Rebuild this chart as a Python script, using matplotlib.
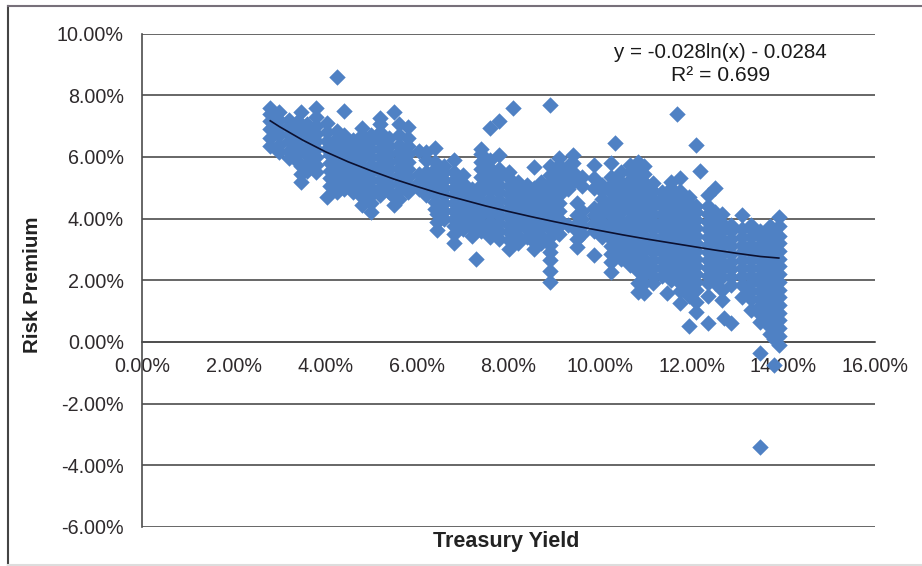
#!/usr/bin/env python3
# -*- coding: utf-8 -*-
import matplotlib
matplotlib.use("Agg")
import matplotlib.pyplot as plt
from matplotlib.lines import Line2D
from matplotlib.ticker import FuncFormatter

plt.rcParams['font.family'] = ['Liberation Sans', 'DejaVu Sans']

# treasury yield (%) and the risk premiums (%) at that yield
yields = [
    2.8, 3.0, 3.2, 3.4, 3.46, 3.6, 3.8, 4.03, 4.1, 4.26, 4.4, 4.6, 4.8, 5.0, 5.2, 5.4, 5.5,
    5.6, 5.8, 6.05, 6.2, 6.4, 6.45, 6.6, 6.8, 7.0, 7.2, 7.3, 7.4, 7.6, 7.8, 8.0, 8.1,
    8.2, 8.4, 8.55, 8.7, 8.9, 9.1, 9.3, 9.4, 9.5, 9.6, 9.87, 10.05, 10.24, 10.33,
    10.45, 10.65, 10.83, 10.96, 11.15, 11.35, 11.47, 11.55, 11.68, 11.75, 11.95,
    12.1, 12.19, 12.36, 12.5, 12.65, 12.7, 12.85, 13.09, 13.3, 13.48, 13.5, 13.7,
    13.8, 13.9,
]
premiums = [
    [6.35, 6.6, 6.9, 7.15, 7.4, 7.6],
    [6.15, 6.4, 6.7, 6.95, 7.2, 7.45],
    [5.95, 6.2, 6.5, 6.75, 7.0, 7.2],
    [5.85, 6.1, 6.4, 6.65, 6.9, 7.15],
    [5.18, 5.45, 5.7, 7.44],
    [5.55, 5.8, 6.05, 6.3, 6.6, 6.85, 7.05],
    [5.5, 5.75, 6.0, 6.25, 6.5, 6.75, 7.0, 7.3, 7.57],
    [4.7, 6.25, 6.5, 6.8, 7.1],
    [5.05, 5.3, 5.55, 5.8, 6.05, 6.3],
    [4.85, 5.1, 5.35, 5.6, 5.85, 6.1, 6.35, 6.6, 6.85, 8.58],
    [4.95, 5.2, 5.45, 5.7, 5.95, 6.2, 6.45, 6.7, 7.5],
    [4.85, 5.1, 5.35, 5.6, 5.85, 6.1, 6.35, 6.55],
    [4.45, 4.7, 4.95, 5.2, 5.45, 5.7, 5.95, 6.2, 6.45, 6.7, 6.95],
    [4.2, 4.5, 4.75, 5.0, 5.25, 5.5, 5.75, 6.0, 6.25, 6.5, 6.7],
    [4.75, 5.0, 5.25, 5.5, 5.75, 6.0, 6.25, 6.5, 6.8, 7.05, 7.25],
    [4.85, 5.1, 5.35, 5.6, 5.85, 6.1, 6.35, 6.6],
    [4.43, 4.7, 7.45],
    [4.65, 4.9, 5.15, 5.4, 5.65, 5.9, 6.15, 6.4, 6.7, 7.05],
    [4.85, 5.1, 5.35, 5.6, 5.85, 6.1, 6.35, 6.6, 6.96],
    [4.95, 5.2, 5.45, 6.2],
    [4.75, 5.0, 5.25, 5.5, 5.9, 6.15],
    [4.3, 4.55, 4.8, 5.05, 5.3, 5.6, 5.85, 6.3],
    [3.62, 3.9, 4.15],
    [4.0, 4.25, 4.5, 4.75, 5.0, 5.25, 5.5, 5.7],
    [3.2, 3.5, 3.75, 4.0, 4.25, 4.5, 4.75, 5.0, 5.25, 5.5, 5.9],
    [3.65, 3.9, 4.15, 4.4, 4.65, 4.9, 5.15, 5.4],
    [3.45, 3.7, 3.95, 4.2, 4.45, 4.7, 4.95],
    [2.68],
    [3.6, 3.85, 4.1, 4.35, 4.6, 4.85, 5.1, 5.35, 5.6, 5.85, 6.1, 6.27],
    [3.4, 3.65, 3.9, 4.15, 4.4, 4.65, 4.9, 5.15, 5.4, 5.65, 5.9, 6.92],
    [3.35, 3.6, 3.85, 4.1, 4.35, 4.6, 4.85, 5.1, 5.35, 5.6, 6.05, 7.15],
    [3.0, 3.3, 3.55, 3.8, 4.05, 4.3, 4.55, 4.8, 5.05, 5.3, 5.5],
    [7.6],
    [3.2, 3.45, 3.7, 3.95, 4.2, 4.45, 4.7, 4.95, 5.2],
    [3.4, 3.65, 3.9, 4.15, 4.4, 4.65, 4.9, 5.1],
    [3.0, 3.25, 3.5, 3.75, 4.0, 4.25, 4.5, 4.75, 5.0, 5.66],
    [3.2, 3.45, 3.7, 3.95, 4.2, 4.45, 4.7, 4.95, 5.2],
    [1.94, 2.3, 2.65, 2.9, 3.15, 3.4, 3.65, 3.9, 4.15, 4.4, 4.65, 4.9, 5.15, 5.4, 5.7, 7.67],
    [3.5, 3.75, 4.0, 4.25, 4.5, 4.75, 5.0, 5.25, 5.5, 5.75, 5.95],
    [3.8, 4.95, 5.2, 5.45, 5.7],
    [5.2, 5.5, 5.8, 6.05],
    [3.07, 3.35, 3.6, 3.85, 4.1, 4.5],
    [3.5, 3.75, 4.0, 4.25, 5.05, 5.35],
    [2.82, 3.6, 3.85, 4.1, 4.35, 5.0, 5.3, 5.73],
    [3.4, 3.65, 3.9, 4.15, 4.4, 4.65, 4.9, 5.1],
    [2.27, 2.6, 2.85, 3.1, 3.35, 3.6, 3.85, 4.1, 4.35, 4.6, 4.85, 5.1, 5.35, 5.8],
    [6.44],
    [2.7, 2.95, 3.2, 3.45, 3.7, 3.95, 4.2, 4.45, 4.7, 4.95, 5.2, 5.5],
    [2.5, 2.75, 3.0, 3.25, 3.5, 3.75, 4.0, 4.25, 4.5, 4.75, 5.0, 5.25, 5.5, 5.75],
    [1.62, 1.9, 2.3, 2.55, 2.8, 3.05, 3.3, 3.55, 3.8, 4.05, 4.3, 4.55, 4.8, 5.05, 5.3, 5.55, 5.85],
    [1.59, 1.9, 2.2, 2.45, 2.7, 2.95, 3.2, 3.45, 3.7, 3.95, 4.2, 4.45, 4.7, 4.95, 5.2, 5.45, 5.7],
    [1.9, 2.15, 2.4, 2.65, 2.9, 3.15, 3.4, 3.65, 3.9, 4.15, 4.4, 4.65, 4.9, 5.15],
    [2.15, 2.4, 2.65, 2.9, 3.15, 3.4, 3.65, 3.9, 4.15, 4.4, 4.65, 4.85],
    [1.59],
    [2.0, 2.25, 2.5, 2.75, 3.0, 3.25, 3.5, 3.75, 4.0, 4.25, 4.5, 4.75, 5.0, 5.2],
    [7.38],
    [1.26, 1.65, 1.9, 2.15, 2.4, 2.65, 2.9, 3.15, 3.4, 3.65, 3.9, 4.15, 4.4, 4.65, 4.9, 5.3],
    [0.52, 1.5, 1.75, 2.0, 2.25, 2.5, 2.75, 3.0, 3.25, 3.5, 3.75, 4.0, 4.25, 4.5, 4.7],
    [0.97, 1.3, 1.7, 1.95, 2.2, 2.45, 2.7, 2.95, 3.2, 3.45, 3.7, 3.95, 4.2, 4.4, 6.38],
    [5.53],
    [0.61, 1.5, 1.9, 2.15, 2.4, 2.65, 2.9, 3.15, 3.4, 3.65, 3.9, 4.15, 4.4, 4.75],
    [1.9, 2.15, 2.4, 2.65, 2.9, 3.15, 3.4, 3.65, 3.9, 4.2, 4.98],
    [1.36, 1.7, 2.1, 2.35, 2.6, 2.85, 3.1, 3.35, 3.6, 3.85, 4.15],
    [0.78],
    [0.61, 1.85, 2.1, 2.35, 2.6, 2.85, 3.1, 3.35, 3.6, 3.8],
    [1.46, 1.85, 2.15, 2.4, 2.65, 2.9, 3.15, 3.4, 3.65, 4.1],
    [1.05, 1.4, 1.65, 1.9, 2.15, 2.4, 2.65, 2.9, 3.15, 3.4, 3.65, 3.8],
    [-3.4],
    [-0.36, 0.65, 0.9, 1.15, 1.4, 1.65, 1.9, 2.15, 2.4, 2.65, 2.9, 3.15, 3.4, 3.6],
    [0.25, 0.5, 0.75, 1.0, 1.25, 1.5, 1.75, 2.0, 2.25, 2.5, 2.75, 3.0, 3.25, 3.5, 3.75],
    [-0.74, 0.1, 0.45, 0.85, 1.2, 1.6, 2.0, 2.4, 2.8, 3.2, 3.6],
    [-0.1, 0.2, 0.45, 0.7, 0.95, 1.2, 1.45, 1.7, 1.95, 2.2, 2.45, 2.7, 2.95, 3.2, 3.45, 3.75, 4.05],
]

# trendline as it is read along the curve
trend_x = [2.8, 3, 3.5, 4, 4.5, 5, 5.5, 6, 6.5, 7, 7.5, 8, 8.5, 9, 9.5, 10, 10.5,
           11, 11.5, 12, 12.5, 13, 13.5, 13.9]
trend_y = [7.17, 6.98, 6.55, 6.17, 5.84, 5.55, 5.28, 5.04, 4.81, 4.61, 4.41, 4.23,
           4.06, 3.90, 3.75, 3.61, 3.47, 3.34, 3.22, 3.10, 2.98, 2.87, 2.77, 2.72]

x_ticks = [0, 2, 4, 6, 8, 10, 12, 14, 16]
y_ticks = [-6, -4, -2, 0, 2, 4, 6, 8, 10]


def main():
    W, H = 922, 566
    fig = plt.figure(figsize=(W / 100, H / 100), dpi=100, facecolor='white')
    ax = fig.add_axes([142 / W, 1 - 527 / H, (875 - 142) / W, (527 - 33.5) / H])

    xs, ys = [], []
    for x, col in zip(yields, premiums):
        for y in col:
            xs.append(x)
            ys.append(y)
    ax.scatter(xs, ys, marker='D', s=70, color='#4f81c4', linewidths=0, zorder=3)
    ax.plot(trend_x, trend_y, color='#0b1030', linewidth=1.2, zorder=4)

    ax.set_xlim(0, 16)
    ax.set_ylim(-6, 10)
    ax.set_xticks(x_ticks)
    ax.set_yticks(y_ticks)
    fmt = FuncFormatter(lambda v, pos: '{:.2f}%'.format(v))
    ax.xaxis.set_major_formatter(fmt)
    ax.yaxis.set_major_formatter(fmt)
    ax.tick_params(axis='both', length=0, labelsize=14.2, labelcolor='#2e2a2c')
    ax.tick_params(axis='x', pad=10.5)
    ax.tick_params(axis='y', pad=13)
    ax.grid(axis='y', color='#4d4d4d', linewidth=1.2, zorder=1)
    ax.set_axisbelow(True)

    for side in ['top', 'right']:
        ax.spines[side].set_visible(False)
    ax.spines['bottom'].set_position(('data', 0))
    ax.spines['bottom'].set_color('#4d4d4d')
    ax.spines['bottom'].set_linewidth(1.2)
    ax.spines['left'].set_color('#4d4d4d')
    ax.spines['left'].set_linewidth(1.2)

    ax.text(12.63, 9.39, 'y = -0.028ln(x) - 0.0284', ha='center', va='center',
            fontsize=14.8, color='#1a1a1a')
    ax.text(12.63, 8.64, 'R² = 0.699', ha='center', va='center',
            fontsize=15.2, color='#1a1a1a')

    fig.text(506 / W, 1 - 542 / H, 'Treasury Yield', ha='center', va='center',
             fontsize=15.5, fontweight='bold', color='#222222')
    fig.text(32 / W, 1 - 285 / H, 'Risk Premium', ha='center', va='center', rotation=90,
             fontsize=14.8, fontweight='bold', color='#222222')

    # chart border, left and top are dark, the bottom one is hardly visible
    fig.add_artist(Line2D([8 / W, 8 / W], [0, 1 - 6 / H], transform=fig.transFigure,
                          color='#444444', linewidth=1.5))
    fig.add_artist(Line2D([8 / W, 1], [1 - 6 / H, 1 - 6 / H], transform=fig.transFigure,
                          color='#77707a', linewidth=1.5))
    fig.add_artist(Line2D([8 / W, 1], [1 - 565 / H, 1 - 565 / H], transform=fig.transFigure,
                          color='#dddddd', linewidth=1.5))

    fig.savefig('out.png', dpi=100)


if __name__ == '__main__':
    main()
